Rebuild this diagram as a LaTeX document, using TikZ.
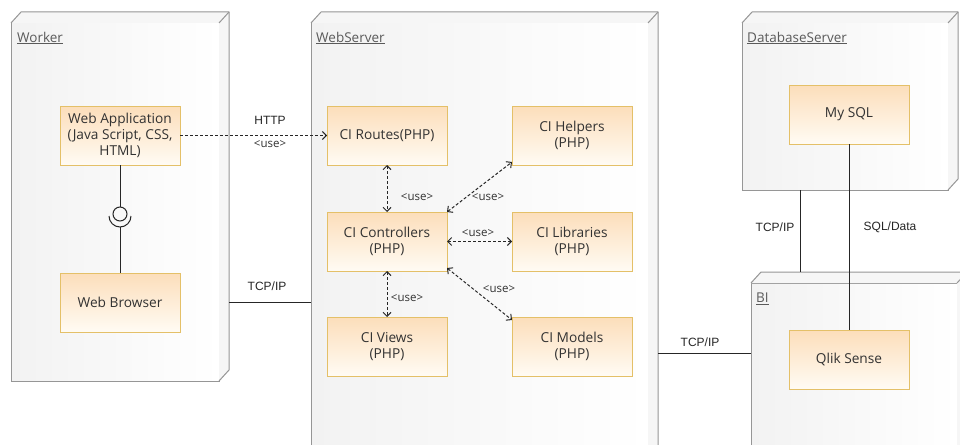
\documentclass[tikz,border=0pt]{standalone}
\usepackage{fontspec}
\setmainfont{Open Sans}
\newfontfamily\linkfont{Liberation Sans}
\usetikzlibrary{arrows.meta,calc}

\definecolor{compfill}{RGB}{252,222,186}
\definecolor{compfilllight}{RGB}{255,251,244}
\definecolor{compedge}{RGB}{228,192,104}
\definecolor{nodeedge}{RGB}{150,150,150}
\definecolor{nodefill}{RGB}{242,242,242}
\definecolor{sidefill}{RGB}{246,246,246}
\definecolor{textgray}{RGB}{50,50,50}
\definecolor{titlegray}{RGB}{90,90,90}

\tikzset{
  x=1pt, y=-1pt,
  deploynode/.style={draw=nodeedge, line width=1pt, left color=nodefill, right color=white,
    anchor=north west, inner sep=0, outer sep=0},
  nodeline/.style={draw=nodeedge, line width=1pt, line join=round},
  component/.style={draw=compedge, line width=1pt, top color=compfill, bottom color=compfilllight,
    minimum width=120pt, minimum height=59pt, anchor=north west, align=center,
    font=\fontsize{13.7}{16}\selectfont, text=textgray, inner sep=2pt, outer sep=0},
  nodetitle/.style={anchor=west, font=\fontsize{13.5}{15}\selectfont, text=titlegray, inner sep=0},
  conn/.style={draw=black!85, line width=1pt},
  usage/.style={conn, dash pattern=on 3pt off 2pt,
    {Straight Barb[length=4pt,width=8pt]}-{Straight Barb[length=4pt,width=8pt]}},
  usageto/.style={conn, dash pattern=on 3pt off 2pt, -{Straight Barb[length=4pt,width=8pt]}},
  linklabel/.style={font=\linkfont\fontsize{12}{14}\selectfont, text=black!85, inner sep=0},
  uselabel/.style={font=\fontsize{11.5}{13}\selectfont, text=textgray, inner sep=0},
}

% top and right faces of a 3D deployment node
\newcommand\depthfaces[1]{%
  \fill[sidefill] (#1.north west) -- ++(10pt,11pt) -- ([shift={(10pt,11pt)}]#1.north east)
    -- ([shift={(10pt,11pt)}]#1.south east) -- (#1.south east) -- (#1.north east) -- cycle;
  \draw[nodeline] (#1.north west) -- ++(10pt,11pt) -- ([shift={(10pt,11pt)}]#1.north east)
    -- ([shift={(10pt,11pt)}]#1.south east) -- (#1.south east);
  \draw[nodeline] (#1.north east) -- ([shift={(10pt,11pt)}]#1.north east);
}

\begin{document}
\begin{tikzpicture}
\useasboundingbox (0,0) rectangle (960,444);
\clip (0,0) rectangle (960,444);
\fill[white] (0,0) rectangle (960,444);

% deployment nodes
\node[deploynode, minimum width=208pt, minimum height=358pt] (worker) at (11,23) {};
\node[deploynode, minimum width=337pt, minimum height=450pt] (webserver) at (311,23) {};
\node[deploynode, minimum width=206pt, minimum height=167pt] (db) at (742,23) {};
\node[deploynode, minimum width=206pt, minimum height=200pt] (bi) at (751,283) {};
\depthfaces{worker}
\depthfaces{webserver}
\depthfaces{db}
\depthfaces{bi}

\node[nodetitle] (tworker) at (17,38) {\underline{Worker}};
\node[nodetitle] (tweb) at (316,38) {\underline{WebServer}};
\node[nodetitle] (tdb) at (747,38) {\underline{DatabaseServer}};
\node[nodetitle] (tbi) at (756,299) {\underline{BI}};

% components
\node[component] (webapp) at (60,106) {Web Application\\(Java Script, CSS,\\HTML)};
\node[component] (browser) at (60,273) {Web Browser};
\node[component] (routes) at (327,106) {CI Routes(PHP)};
\node[component] (helpers) at (512,106) {CI Helpers\\(PHP)};
\node[component] (controllers) at (327,212) {CI Controllers\\(PHP)};
\node[component] (libraries) at (512,212) {CI Libraries\\(PHP)};
\node[component] (views) at (327,317) {CI Views\\(PHP)};
\node[component] (models) at (512,317) {CI Models\\(PHP)};
\node[component] (mysql) at (789,85) {My SQL};
\node[component] (qlik) at (789,330) {Qlik Sense};

% provided / required interface between the web application and the browser
\node[circle, draw=black!85, line width=1pt, minimum size=14pt, inner sep=0] (iface) at (120,214) {};
\coordinate (sock) at (120,227);
\draw[conn] (webapp.south) -- (iface.north);
\draw[conn] ([shift={(-11pt,11pt)}]sock) arc[start angle=180, end angle=360, radius=11pt];
\draw[conn] (sock) -- (browser.north);

% HTTP usage
\draw[usageto] (webapp.east) -- (routes.west);
\node[linklabel] (lhttp) at (270,120) {HTTP};
\node[uselabel] (luse0) at (270,144) {<use>};

% network links
\draw[conn] ([xshift=10pt]worker.east |- browser.center) -- (webserver.west |- browser.center);
\node[linklabel] (ltcp1) at (267,286) {TCP/IP};

\coordinate (midlink) at ($(models.east)!0.5!(qlik.west)$);
\draw[conn] ([xshift=10pt]webserver.east |- midlink) -- (bi.west |- midlink);
\node[linklabel] (ltcp2) at (700,342) {TCP/IP};

\coordinate (dbdrop) at ([xshift=-45pt]db.south);
\draw[conn] (dbdrop) -- ([yshift=11pt]bi.north -| dbdrop);
\node[linklabel] (ltcp3) at (775,227) {TCP/IP};

\draw[conn] (mysql.south) -- (qlik.north);
\node[linklabel] (lsql) at (890,227) {SQL/Data};

% usages inside the web server
\draw[usage] (routes.south) -- (controllers.north);
\draw[usage] (controllers.north east) -- ([yshift=3pt]helpers.south west);
\draw[usage] (controllers.east) -- (libraries.west);
\draw[usage] (controllers.south) -- (views.north);
\draw[usage] ([yshift=3pt]controllers.south east) -- ([yshift=-3pt]models.north west);
\node[uselabel] (luse1) at (417,197) {<use>};
\node[uselabel] (luse2) at (488,197) {<use>};
\node[uselabel] (luse3) at (478,233) {<use>};
\node[uselabel] (luse4) at (407,298) {<use>};
\node[uselabel] (luse5) at (499,289) {<use>};
\end{tikzpicture}
\end{document}
